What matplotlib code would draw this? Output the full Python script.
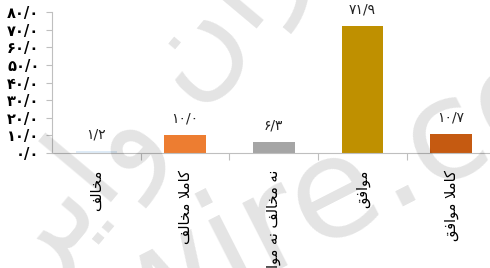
import matplotlib
matplotlib.use("Agg")
import matplotlib.pyplot as plt

# categories (logical Persian order, left to right on the chart)
categories = ["مخالف", "کاملا مخالف", "نه مخالف نه موافق", "موافق", "کاملا موافق"]
values = [1.2, 10.0, 6.3, 71.9, 10.7]
bar_colors = ["#DEEBF7", "#ED7D31", "#A5A5A5", "#BF9000", "#C55A11"]
yticks = [0, 10, 20, 30, 40, 50, 60, 70, 80]

FA_DIGITS = str.maketrans("0123456789", "۰۱۲۳۴۵۶۷۸۹")

# presentation forms: (isolated, final, initial, medial); None = no left join
FORMS = {
    "ا": ("\uFE8D", "\uFE8E", None, None),
    "و": ("\uFEED", "\uFEEE", None, None),
    "ر": ("\uFEAD", "\uFEAE", None, None),
    "ل": ("\uFEDD", "\uFEDE", "\uFEDF", "\uFEE0"),
    "م": ("\uFEE1", "\uFEE2", "\uFEE3", "\uFEE4"),
    "خ": ("\uFEA5", "\uFEA6", "\uFEA7", "\uFEA8"),
    "ف": ("\uFED1", "\uFED2", "\uFED3", "\uFED4"),
    "ق": ("\uFED5", "\uFED6", "\uFED7", "\uFED8"),
    "ن": ("\uFEE5", "\uFEE6", "\uFEE7", "\uFEE8"),
    "ه": ("\uFEE9", "\uFEEA", "\uFEEB", "\uFEEC"),
    "ک": ("\uFB8E", "\uFB8F", "\uFB90", "\uFB91"),
    "ی": ("\uFBFC", "\uFBFD", "\uFBFE", "\uFBFF"),
}


def fa_num(v, fmt="{:.1f}"):
    return fmt.format(v).replace(".", "/").translate(FA_DIGITS)


def shape(text):
    """Very small Persian shaper: contextual forms + lam-alef, then reverse for RTL."""
    out = []
    chars = list(text)
    i = 0
    prev_joins = False
    while i < len(chars):
        c = chars[i]
        if c not in FORMS:
            out.append(c)
            prev_joins = False
            i += 1
            continue
        if c == "ل" and i + 1 < len(chars) and chars[i + 1] == "ا":
            out.append("\uFEFC" if prev_joins else "\uFEFB")
            prev_joins = False
            i += 2
            continue
        iso, fin, ini, med = FORMS[c]
        nxt = chars[i + 1] if i + 1 < len(chars) else None
        next_ok = ini is not None and nxt in FORMS
        if prev_joins and next_ok:
            out.append(med)
        elif prev_joins:
            out.append(fin)
        elif next_ok:
            out.append(ini)
        else:
            out.append(iso)
        prev_joins = ini is not None
        i += 1
    return "".join(reversed(out))


plt.rcParams["font.family"] = ["DejaVu Sans"]

fig = plt.figure(figsize=(4.9, 2.68), dpi=100)
ax = fig.add_axes([52 / 490, 115 / 268, 5 * 88.7 / 490, 141 / 268])

x = list(range(len(categories)))
ax.bar(x, values, width=0.47, color=bar_colors, zorder=2)

for xi, v in zip(x, values):
    ax.annotate(fa_num(v), (xi, v), xytext=(0, 12), textcoords="offset points",
                ha="center", va="center", fontsize=10, color="#222222")

ax.set_xlim(-0.5, 4.5)
ax.set_ylim(0, 80)
ax.set_yticks(yticks)
ax.set_yticklabels([fa_num(t) for t in yticks], fontsize=10.5, fontweight="bold")

# category dividers as ticks, labels in the middle
ax.set_xticks([0.5, 1.5, 2.5, 3.5])
ax.set_xticklabels([])
ax.set_xticks(x, minor=True)
ax.set_xticklabels([shape(c) for c in categories], minor=True, rotation=90,
                   fontsize=10.5, va="top", ha="center")
ax.tick_params(axis="x", which="minor", length=0, pad=12)
ax.tick_params(axis="x", which="major", length=5, color="#bfbfbf")
ax.tick_params(axis="y", length=4, color="#bfbfbf", pad=5)

for side in ["top", "right"]:
    ax.spines[side].set_visible(False)
for side in ["left", "bottom"]:
    ax.spines[side].set_color("#bfbfbf")

# watermark
fig.text(0.56, 0.17, "iranwire.com", fontsize=100, color="black", alpha=0.11,
         rotation=27, ha="center", va="center", zorder=10)
fig.text(0.36, 0.70, shape("ایران وایر"), fontsize=90, color="black", alpha=0.11,
         rotation=50, ha="center", va="center", zorder=10)

fig.savefig("out.png", dpi=100)
